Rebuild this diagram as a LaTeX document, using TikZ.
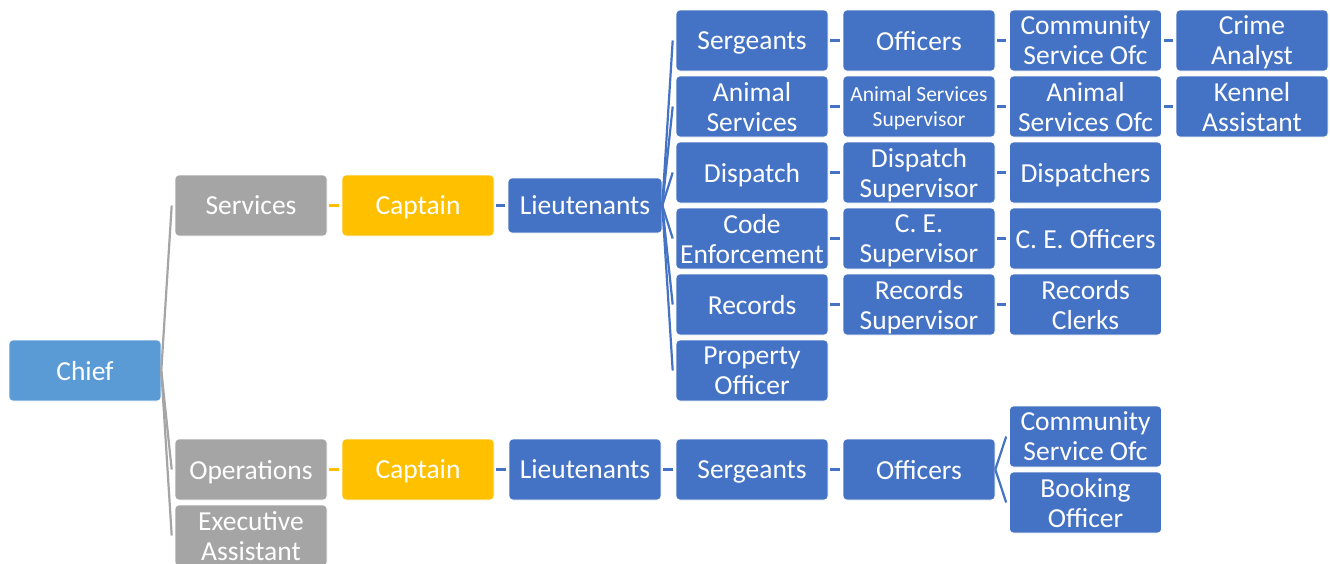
\documentclass[tikz,border=0pt]{standalone}
\usepackage{fontspec}
\setmainfont{Carlito}
\definecolor{boxblue}{HTML}{4472C4}
\definecolor{chiefblue}{HTML}{5B9BD5}
\definecolor{boxgray}{HTML}{A5A5A5}
\definecolor{boxgold}{HTML}{FFC000}
\newcommand{\boxfont}{\fontsize{27.5pt}{30pt}\selectfont}
\newcommand{\smallboxfont}{\fontsize{21.5pt}{25pt}\selectfont}
\tikzset{
  box/.style={rectangle, rounded corners=4pt, draw=white, line width=0.6pt,
    minimum width=152pt, minimum height=61pt, inner sep=0pt, text depth=0pt,
    text=white, align=center, font=\boxfont},
  bluebox/.style={box, fill=boxblue},
  graybox/.style={box, fill=boxgray},
  goldbox/.style={box, fill=boxgold},
  link/.style={line width=2.2pt, boxblue},
  graylink/.style={line width=2.2pt, boxgray},
  goldlink/.style={line width=2.2pt, boxgold},
}
\begin{document}
\begin{tikzpicture}[x=1pt, y=-1pt]
\useasboundingbox (0,0) rectangle (1330,563);

% root
\node[box, fill=chiefblue] (chief) at (85,370.5) {Chief};

% second level
\node[graybox] (services) at (251,205.5) {Services};
\node[graybox] (operations) at (251,469.5) {Operations};
\node[graybox] (exec) at (251,535.5) {Executive\\Assistant};

% services branch
\node[goldbox] (capS) at (418,205.5) {Captain};
\node[bluebox, minimum width=154pt, minimum height=55pt] (ltS) at (585,205.5) {Lieutenants};

\node[bluebox] (sgt)  at (752,40.5)  {Sergeants};
\node[bluebox] (anim) at (752,106.5) {Animal\\Services};
\node[bluebox] (disp) at (752,172.5) {Dispatch};
\node[bluebox] (code) at (752,238.5) {Code\\Enforcement};
\node[bluebox] (rec)  at (752,304.5) {Records};
\node[bluebox] (prop) at (752,370.5) {Property\\Officer};

\node[bluebox] (off)     at (919,40.5)  {Officers};
\node[bluebox, font=\smallboxfont] (animsup) at (919,106.5) {Animal Services\\Supervisor};
\node[bluebox] (dispsup) at (919,172.5) {Dispatch\\Supervisor};
\node[bluebox] (cesup)   at (919,238.5) {C. E.\\Supervisor};
\node[bluebox] (recsup)  at (919,304.5) {Records\\Supervisor};

\node[bluebox] (cso)      at (1085.5,40.5)  {Community\\Service Ofc};
\node[bluebox] (animofc)  at (1085.5,106.5) {Animal\\Services Ofc};
\node[bluebox] (dispers)  at (1085.5,172.5) {Dispatchers};
\node[bluebox] (ceoff)    at (1085.5,238.5) {C. E. Officers};
\node[bluebox] (recclk)   at (1085.5,304.5) {Records\\Clerks};

\node[bluebox] (crime)  at (1252,40.5)  {Crime\\Analyst};
\node[bluebox] (kennel) at (1252,106.5) {Kennel\\Assistant};

% operations branch
\node[goldbox] (capO) at (418,469.5) {Captain};
\node[bluebox] (ltO)  at (585,469.5) {Lieutenants};
\node[bluebox] (sgtO) at (752,469.5) {Sergeants};
\node[bluebox] (offO) at (919,469.5) {Officers};
\node[bluebox] (csoO) at (1085.5,436.5) {Community\\Service Ofc};
\node[bluebox] (book) at (1085.5,502.5) {Booking\\Officer};

% fans from a parent to several children
\foreach \c in {services, operations, exec}
  \draw[graylink] (chief.east) -- ([xshift=-3pt]\c.west);
\foreach \c in {sgt, anim, disp, code, rec, prop}
  \draw[link] (ltS.east) -- ([xshift=-3pt]\c.west);
\foreach \c in {csoO, book}
  \draw[link] (offO.east) -- ([xshift=-3pt]\c.west);

% short links to a single child
\draw[goldlink, shorten <=2pt, shorten >=3pt] (services.east) -- (capS.west);
\draw[goldlink, shorten <=2pt, shorten >=3pt] (operations.east) -- (capO.west);
\foreach \a/\b in {capS/ltS, capO/ltO, ltO/sgtO, sgtO/offO,
                   sgt/off, off/cso, cso/crime,
                   anim/animsup, animsup/animofc, animofc/kennel,
                   disp/dispsup, dispsup/dispers,
                   code/cesup, cesup/ceoff,
                   rec/recsup, recsup/recclk}
  \draw[link, shorten <=2pt, shorten >=3pt] (\a.east) -- (\b.west);
\end{tikzpicture}
\end{document}
